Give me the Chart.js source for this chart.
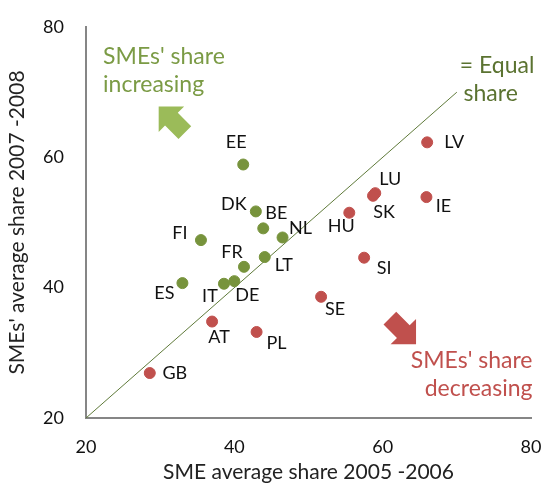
<!DOCTYPE html>
<html><head><meta charset="utf-8">
<script src="https://cdn.jsdelivr.net/npm/chart.js@4/dist/chart.umd.min.js"></script>
<style>html,body{margin:0;padding:0;background:#fff}canvas{display:block}</style>
</head><body>
<canvas id="c" width="543" height="485"></canvas>
<script>
// Countries where SMEs' share increased
const incNames = ['EE','DK','BE','NL','FI','FR','LT','ES','IT','DE'];
const incX     = [41.2, 42.9, 43.9, 46.5, 35.5, 41.3, 44.1, 33.0, 38.6, 40.0];
const incY     = [58.9, 51.7, 49.1, 47.7, 47.3, 43.2, 44.7, 40.7, 40.6, 41.0];
// Countries where SMEs' share decreased
const decNames = ['LV','LU','SK','IE','HU','SI','SE','AT','PL','GB'];
const decX     = [66.0, 59.0, 58.7, 65.9, 55.5, 57.5, 51.7, 37.0, 43.0, 28.6];
const decY     = [62.3, 54.5, 54.1, 53.9, 51.5, 44.6, 38.6, 34.8, 33.2, 26.9];
// Equal-share reference line
const equalX = [20, 70];
const equalY = [20, 70];
const axisTicks = [20, 40, 60, 80];

const FONT = 'Lato, "Open Sans", sans-serif';

// label offsets (px) relative to each point
const labelOffsets = {
  EE:[-7,-22], DK:[-22,-7], BE:[13,-15], NL:[18,-9], FI:[-21,-7], FR:[-12,-15],
  LT:[19,8], ES:[-18,10], IT:[-14,12], DE:[13,14], AT:[7,16], PL:[20,11],
  GB:[25,0], SE:[14,12], SI:[20,10], LV:[27,0], LU:[15,-14], SK:[11,16],
  IE:[17,9], HU:[-8,13]
};

const pts = (xs, ys) => xs.map((x, i) => ({x, y: ys[i]}));

const labelPlugin = {
  id: 'pointLabels',
  afterDatasetsDraw(chart) {
    const ctx = chart.ctx;
    ctx.save();
    ctx.font = '18px ' + FONT;
    ctx.fillStyle = '#111';
    ctx.textAlign = 'center';
    ctx.textBaseline = 'middle';
    chart.data.datasets.forEach((ds, di) => {
      if (!ds.names) return;
      const meta = chart.getDatasetMeta(di);
      meta.data.forEach((el, i) => {
        const n = ds.names[i];
        const o = labelOffsets[n] || [0, 0];
        ctx.fillText(n, el.x + o[0], el.y + o[1]);
      });
    });
    ctx.restore();
  }
};

function drawArrow(ctx, tx, ty, dirx, diry, color) {
  const len = Math.hypot(dirx, diry);
  const ux = dirx / len, uy = diry / len;
  const px = -uy, py = ux;
  const headLen = 18, headHalf = 18, shaftHalf = 9, total = 37;
  const bx = tx - ux * headLen, by = ty - uy * headLen;
  const ex = tx - ux * total, ey = ty - uy * total;
  ctx.beginPath();
  ctx.moveTo(tx, ty);
  ctx.lineTo(bx + px * headHalf, by + py * headHalf);
  ctx.lineTo(bx + px * shaftHalf, by + py * shaftHalf);
  ctx.lineTo(ex + px * shaftHalf, ey + py * shaftHalf);
  ctx.lineTo(ex - px * shaftHalf, ey - py * shaftHalf);
  ctx.lineTo(bx - px * shaftHalf, by - py * shaftHalf);
  ctx.lineTo(bx - px * headHalf, by - py * headHalf);
  ctx.closePath();
  ctx.fillStyle = color;
  ctx.fill();
}

const annotPlugin = {
  id: 'annotations',
  afterDraw(chart) {
    const ctx = chart.ctx;
    const xs = chart.scales.x, ys = chart.scales.y;
    const X = v => xs.getPixelForValue(v), Y = v => ys.getPixelForValue(v);
    ctx.save();
    drawArrow(ctx, X(29.8), Y(67.8), -1, -1, '#9bbb59');
    drawArrow(ctx, X(64.5), Y(31.3), 1, 1, '#c0504d');
    ctx.font = '23px ' + FONT;
    ctx.textBaseline = 'alphabetic';
    ctx.fillStyle = '#7b9b45';
    ctx.textAlign = 'left';
    ctx.fillText("SMEs' share", X(22.3), Y(74.25));
    ctx.fillText('increasing', X(22.3), Y(70.0));
    ctx.fillStyle = '#c0504d';
    ctx.textAlign = 'right';
    ctx.fillText("SMEs' share", X(80.2), Y(27.6));
    ctx.fillText('decreasing', X(80.2), Y(23.3));
    ctx.fillStyle = '#5b7331';
    ctx.textAlign = 'left';
    ctx.fillText('= Equal', X(70.4), Y(73.0));
    ctx.fillText('share', X(70.9), Y(68.6));
    ctx.restore();
  }
};

new Chart(document.getElementById('c'), {
  type: 'scatter',
  data: {
    datasets: [
      { label: 'Increasing', names: incNames, data: pts(incX, incY),
        backgroundColor: '#77933c', borderColor: '#77933c', pointRadius: 5.5, order: 1 },
      { label: 'Decreasing', names: decNames, data: pts(decX, decY),
        backgroundColor: '#c0504d', borderColor: '#c0504d', pointRadius: 5.5, order: 1 },
      { type: 'line', label: 'Equal share', data: pts(equalX, equalY),
        borderColor: '#5f7a3a', borderWidth: 1, pointRadius: 0, fill: false, order: 3 }
    ]
  },
  options: {
    responsive: false,
    animation: false,
    layout: { padding: { top: 27, right: 12, left: 0, bottom: 0 } },
    plugins: { legend: { display: false }, tooltip: { enabled: false } },
    scales: {
      x: {
        type: 'linear', min: 20, max: 80,
        afterBuildTicks: s => { s.ticks = axisTicks.map(v => ({value: v})); },
        afterFit: s => { s.height = 67; s.paddingLeft = 0; s.paddingRight = 0; },
        grid: { display: false, drawTicks: false },
        border: { display: true, color: '#868686', width: 2 },
        ticks: { color: '#111', font: { size: 18, family: FONT }, padding: 18 },
        title: { display: true, text: 'SME average share 2005 -2006', color: '#222',
                 font: { size: 21, family: FONT }, padding: { top: 0, bottom: 0 } }
      },
      y: {
        type: 'linear', min: 20, max: 80,
        afterBuildTicks: s => { s.ticks = axisTicks.map(v => ({value: v})); },
        afterFit: s => { s.width = 86; s.paddingTop = 0; s.paddingBottom = 0; },
        grid: { display: false, drawTicks: false },
        border: { display: true, color: '#868686', width: 2 },
        ticks: { color: '#111', font: { size: 18, family: FONT }, padding: 22 },
        title: { display: true, text: "SMEs' average share 2007 -2008", color: '#222',
                 font: { size: 21, family: FONT }, padding: { top: 5, bottom: 0 } }
      }
    }
  },
  plugins: [labelPlugin, annotPlugin]
});
</script>
</body></html>
